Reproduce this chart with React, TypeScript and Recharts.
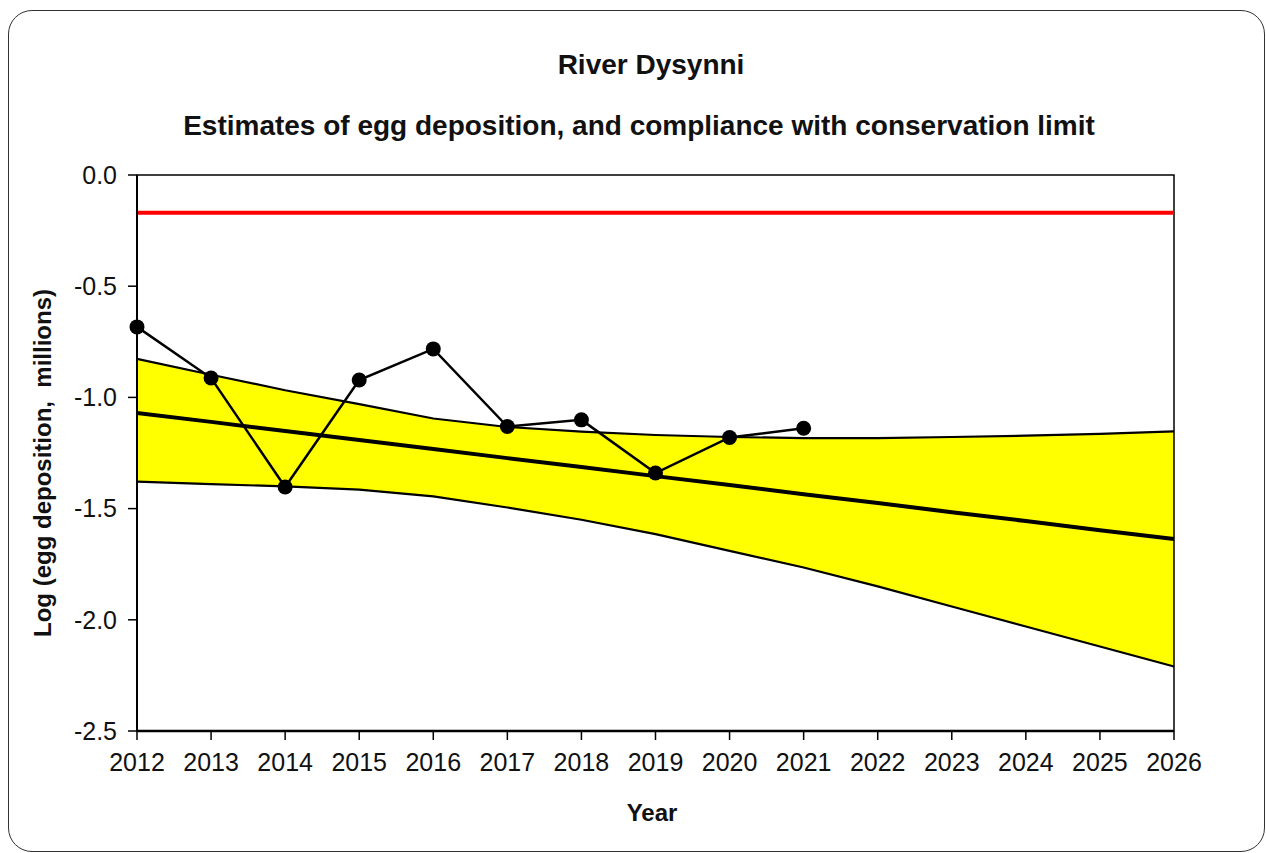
import React from 'react';
import { ComposedChart, Area, Line, XAxis, YAxis, ReferenceLine, ReferenceArea } from 'recharts';

const years = [2012, 2013, 2014, 2015, 2016, 2017, 2018, 2019, 2020, 2021, 2022, 2023, 2024, 2025, 2026];
const observed = [-0.683, -0.913, -1.403, -0.922, -0.782, -1.131, -1.101, -1.34, -1.18, -1.139];
const upperBound = [-0.827, -0.898, -0.968, -1.03, -1.095, -1.133, -1.154, -1.169, -1.178, -1.183, -1.183, -1.178, -1.172, -1.164, -1.153];
const trend = [-1.07, -1.11, -1.151, -1.192, -1.232, -1.273, -1.313, -1.354, -1.394, -1.435, -1.475, -1.516, -1.556, -1.597, -1.637];
const lowerBound = [-1.379, -1.39, -1.4, -1.415, -1.445, -1.495, -1.55, -1.615, -1.69, -1.765, -1.85, -1.94, -2.03, -2.12, -2.21];
const conservationLimit = -0.17;
const yTicks = [0, -0.5, -1, -1.5, -2, -2.5];

const titleText = 'River Dysynni';
const subtitleText = 'Estimates of egg deposition, and compliance with conservation limit';
const yLabelText = 'Log (egg deposition,  millions)';
const xLabelText = 'Year';

const data = years.map((year, i) => ({
  year,
  observed: i < observed.length ? observed[i] : null,
  upper: upperBound[i],
  lower: lowerBound[i],
  trend: trend[i],
  band: [lowerBound[i], upperBound[i]],
}));

const FONT = '"Liberation Sans", Arial, sans-serif';

export default function App() {
  return (
    <div style={{ position: 'absolute', left: 0, top: 0, width: 1266, height: 853, background: '#fff', fontFamily: FONT, overflow: 'hidden' }}>
      <div
        style={{
          position: 'absolute',
          left: 8,
          top: 10,
          width: 1257,
          height: 842,
          boxSizing: 'border-box',
          border: '1.5px solid #333',
          borderRadius: 24,
        }}
      />
      <div style={{ position: 'absolute', left: 0, top: 0 }}>
        <ComposedChart width={1266} height={853} data={data} margin={{ top: 175, right: 92, bottom: 62, left: 37 }}>
          <XAxis
            dataKey="year"
            type="number"
            domain={[2012, 2026]}
            ticks={years}
            interval={0}
            height={60}
            tickSize={9}
            tickMargin={13}
            axisLine={{ stroke: '#000', strokeWidth: 2.5 }}
            tickLine={{ stroke: '#000', strokeWidth: 1.5 }}
            tick={{ fill: '#111', fontSize: 25, fontFamily: FONT }}
          />
          <YAxis
            type="number"
            domain={[-2.5, 0]}
            ticks={yTicks}
            interval={0}
            width={100}
            tickSize={9}
            tickMargin={11}
            tickFormatter={(v: number) => v.toFixed(1)}
            axisLine={{ stroke: '#000', strokeWidth: 2 }}
            tickLine={{ stroke: '#000', strokeWidth: 1.5 }}
            tick={{ fill: '#111', fontSize: 25, fontFamily: FONT }}
          />
          <Area
            dataKey="band"
            type="linear"
            fill="#FFFF00"
            fillOpacity={1}
            stroke="none"
            isAnimationActive={false}
            activeDot={false}
          />
          <ReferenceLine y={conservationLimit} stroke="#FF0000" strokeWidth={4} />
          <Line dataKey="upper" type="linear" stroke="#000" strokeWidth={2.2} dot={false} activeDot={false} isAnimationActive={false} />
          <Line dataKey="lower" type="linear" stroke="#000" strokeWidth={2.2} dot={false} activeDot={false} isAnimationActive={false} />
          <Line dataKey="trend" type="linear" stroke="#000" strokeWidth={4} dot={false} activeDot={false} isAnimationActive={false} />
          <ReferenceArea x1={2012} x2={2026} y1={-2.5} y2={0} fill="none" stroke="#000" strokeWidth={1.5} ifOverflow="visible" />
          <Line
            dataKey="observed"
            type="linear"
            stroke="#000"
            strokeWidth={2.5}
            dot={{ r: 7.5, fill: '#000', stroke: '#000', strokeWidth: 0 }}
            activeDot={false}
            connectNulls={false}
            isAnimationActive={false}
          />
        </ComposedChart>
      </div>
      <svg width={1266} height={853} style={{ position: 'absolute', left: 0, top: 0, pointerEvents: 'none' }}>
        <text x={651} y={74} textAnchor="middle" fontFamily={FONT} fontWeight="bold" fontSize={28} fill="#111">
          {titleText}
        </text>
        <text x={639} y={135} textAnchor="middle" fontFamily={FONT} fontWeight="bold" fontSize={28} fill="#111">
          {subtitleText}
        </text>
        <text
          x={0}
          y={0}
          transform="translate(51,463) rotate(-90)"
          textAnchor="middle"
          fontFamily={FONT}
          fontWeight="bold"
          fontSize={24}
          fill="#111"
          style={{ whiteSpace: 'pre' }}
        >
          {yLabelText}
        </text>
        <text x={652} y={821} textAnchor="middle" fontFamily={FONT} fontWeight="bold" fontSize={24} fill="#111">
          {xLabelText}
        </text>
      </svg>
    </div>
  );
}
